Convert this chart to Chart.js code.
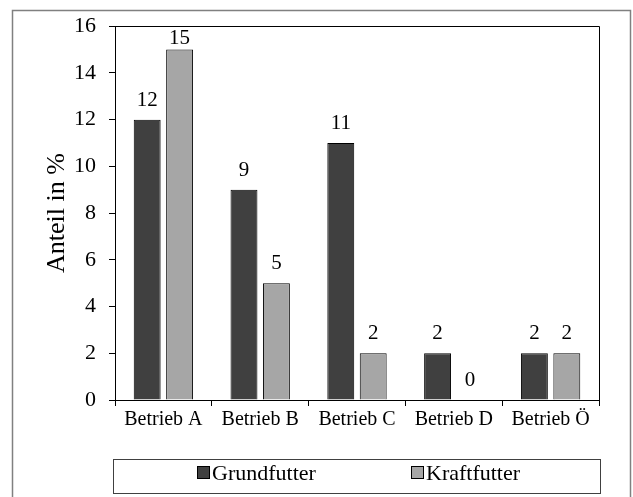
<!DOCTYPE html>
<html>
<head>
<meta charset="utf-8">
<script src="https://cdn.jsdelivr.net/npm/chart.js@4/dist/chart.umd.min.js"></script>
<style>
  body { margin: 0; background: #fff; }
</style>
</head>
<body>
<canvas id="myChart" width="633" height="497"></canvas>
<script>
// data
const categories = ['Betrieb A', 'Betrieb B', 'Betrieb C', 'Betrieb D', 'Betrieb Ö'];
const grundfutter = [12, 9, 11, 2, 2];
const kraftfutter = [15, 5, 2, 0, 2];
const yTicks = [0, 2, 4, 6, 8, 10, 12, 14, 16];

const serif = '"Liberation Serif", "Times New Roman", serif';

// frame, plot box, value labels and the boxed legend
const extras = {
    id: 'extras',
    afterDatasetsDraw(chart) {
        const ctx = chart.ctx;
        const area = chart.chartArea;
        ctx.save();
        ctx.font = '21px ' + serif;
        ctx.fillStyle = '#000';
        ctx.textAlign = 'center';
        ctx.textBaseline = 'alphabetic';
        chart.data.datasets.forEach(function (ds, i) {
            chart.getDatasetMeta(i).data.forEach(function (bar, j) {
                let y = bar.y - 14;
                if (y < area.top + 18) y = area.top + 18;
                ctx.fillText(String(ds.data[j]), bar.x, y);
            });
        });
        ctx.restore();
    },
    afterDraw(chart) {
        const ctx = chart.ctx;
        const area = chart.chartArea;
        ctx.save();
        // outer frame
        ctx.strokeStyle = '#808080';
        ctx.lineWidth = 1.5;
        ctx.strokeRect(12.5, 10.5, 618, 500);
        // plot box
        ctx.strokeStyle = '#000';
        ctx.lineWidth = 1;
        ctx.beginPath();
        ctx.moveTo(Math.round(area.left) + 0.5, Math.round(area.top) + 0.5);
        ctx.lineTo(Math.round(area.right) + 0.5, Math.round(area.top) + 0.5);
        ctx.lineTo(Math.round(area.right) + 0.5, Math.round(area.bottom) + 0.5);
        ctx.stroke();
        // legend box
        const lx = 113, ly = 459, lw = 487, lh = 34;
        ctx.strokeStyle = '#404040';
        ctx.strokeRect(lx + 0.5, ly + 0.5, lw, lh);
        ctx.font = '22px ' + serif;
        ctx.textBaseline = 'middle';
        ctx.textAlign = 'left';
        const starts = [197, 411];
        chart.data.datasets.forEach(function (ds, i) {
            const x = starts[i];
            ctx.fillStyle = ds.backgroundColor;
            ctx.fillRect(x, ly + 7, 12, 12);
            ctx.strokeStyle = '#000';
            ctx.strokeRect(x + 0.5, ly + 7.5, 12, 12);
            ctx.fillStyle = '#000';
            ctx.fillText(ds.label, x + 15, ly + 15);
        });
        ctx.restore();
    }
};

const ctx = document.getElementById('myChart').getContext('2d');
let myChart = new Chart(ctx, {
    type: 'bar',
    data: {
        labels: categories,
        datasets: [{
            label: 'Grundfutter',
            data: grundfutter,
            backgroundColor: '#404040',
            borderColor: '#000',
            borderWidth: 1,
            categoryPercentage: 0.67,
            barPercentage: 0.83
        }, {
            label: 'Kraftfutter',
            data: kraftfutter,
            backgroundColor: '#a6a6a6',
            borderColor: '#000',
            borderWidth: 1,
            categoryPercentage: 0.67,
            barPercentage: 0.83
        }]
    },
    options: {
        responsive: false,
        animation: false,
        layout: { padding: { left: 42, top: 25, right: 34, bottom: 62 } },
        plugins: {
            legend: { display: false },
            tooltip: { enabled: false }
        },
        scales: {
            x: {
                grid: {
                    offset: true,
                    drawOnChartArea: false,
                    drawTicks: true,
                    tickLength: 6,
                    color: '#000'
                },
                border: { color: '#000', width: 1 },
                ticks: {
                    color: '#000',
                    font: { family: serif, size: 20 },
                    padding: 2,
                    maxRotation: 0
                },
                afterFit(scale) { scale.height = 35; }
            },
            y: {
                min: 0,
                max: 16,
                afterBuildTicks(scale) {
                    scale.ticks = yTicks.map(function (v) { return { value: v }; });
                },
                grid: {
                    drawOnChartArea: false,
                    drawTicks: true,
                    tickLength: 6,
                    color: '#000'
                },
                border: { color: '#000', width: 1 },
                ticks: {
                    color: '#000',
                    font: { family: serif, size: 22 },
                    padding: 13
                },
                title: {
                    display: true,
                    text: 'Anteil in %',
                    color: '#000',
                    font: { family: serif, size: 26 },
                    padding: 0
                },
                afterFit(scale) { scale.width = 73; }
            }
        }
    },
    plugins: [extras]
});
</script>
</body>
</html>
